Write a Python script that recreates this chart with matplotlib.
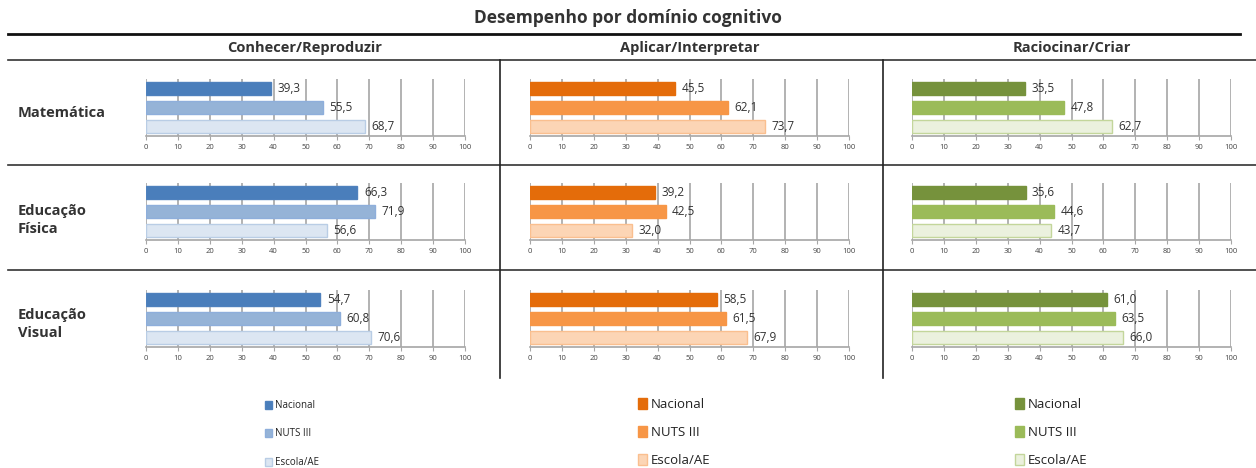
import matplotlib.pyplot as plt
from matplotlib.patches import Patch
from matplotlib.lines import Line2D

plt.rcParams['font.family'] = ['Open Sans', 'DejaVu Sans']

title = 'Desempenho por domínio cognitivo'
domains = ['Conhecer/Reproduzir', 'Aplicar/Interpretar', 'Raciocinar/Criar']
subjects = ['Matemática', 'Educação\nFísica', 'Educação\nVisual']
series = ['Nacional', 'NUTS III', 'Escola/AE']

# values per domain: one row per subject, order Nacional, NUTS III, Escola/AE
conhecer = [[39.3, 55.5, 68.7], [66.3, 71.9, 56.6], [54.7, 60.8, 70.6]]
aplicar = [[45.5, 62.1, 73.7], [39.2, 42.5, 32.0], [58.5, 61.5, 67.9]]
raciocinar = [[35.5, 47.8, 62.7], [35.6, 44.6, 43.7], [61.0, 63.5, 66.0]]
values = [conhecer, aplicar, raciocinar]

fills = [['#4a7ebb', '#95b3d7', '#dce6f2'],
         ['#e46c0a', '#f79646', '#fcd5b5'],
         ['#76923c', '#9bbb59', '#ebf1de']]
edges = [['#4f81bd', '#8eaedb', '#b9cde5'],
         ['#e46c0a', '#f79646', '#fabf8f'],
         ['#76923c', '#9bbb59', '#c3d69b']]

W, H = 1256, 468
fig = plt.figure(figsize=(W / 100, H / 100), dpi=100)


def fx(px):
    return px / W


def fy(py):
    return 1 - py / H


# panel geometry in pixels
col_x0 = [146, 530, 912]
col_w = 319
row_top = [79, 183, 290]
row_h = 57

for c in range(3):
    for r in range(3):
        ax = fig.add_axes([fx(col_x0[c]), fy(row_top[r] + row_h), fx(col_w), row_h / H])
        vals = values[c][r]
        ax.barh(range(3), vals, height=0.68, color=fills[c], edgecolor=edges[c],
                linewidth=1, zorder=3)
        for i, v in enumerate(vals):
            ax.text(v + 2, i, f'{v:.1f}'.replace('.', ','), va='center', ha='left',
                    fontsize=8.5, color='#333333', zorder=4)
        ax.set_xlim(0, 100)
        ax.set_ylim(2.5, -0.5)
        ax.set_xticks(range(0, 101, 10))
        ax.set_yticks([])
        ax.grid(axis='x', color='#a6a6a6', linewidth=1.2, zorder=0)
        for s in ['top', 'right', 'left']:
            ax.spines[s].set_visible(False)
        ax.spines['bottom'].set_color('#a6a6a6')
        ax.spines['bottom'].set_linewidth(1.2)
        ax.tick_params(axis='x', direction='out', length=3, color='#a6a6a6',
                       labelsize=5.5, labelcolor='#444444', pad=3)
        ax.patch.set_alpha(0)

# title, headers and row labels
fig.text(0.5, fy(18), title, ha='center', va='center', fontsize=12.5,
         fontweight='bold', color='#333333')
header_x = [305, 690, 1072]
for c in range(3):
    fig.text(fx(header_x[c]), fy(48), domains[c], ha='center', va='center',
             fontsize=10.5, fontweight='bold', color='#333333')
row_label_y = [113, 220, 324]
for r in range(3):
    fig.text(fx(18), fy(row_label_y[r]), subjects[r], ha='left', va='center',
             fontsize=10.5, fontweight='bold', color='#333333', linespacing=1.45)

# table rules
fig.add_artist(Line2D([fx(8), fx(1240)], [fy(34), fy(34)], color='#111111', lw=2))
fig.add_artist(Line2D([fx(8), fx(1256)], [fy(60), fy(60)], color='#333333', lw=1.2))
for y in [165, 270]:
    fig.add_artist(Line2D([fx(8), fx(1256)], [fy(y), fy(y)], color='#333333', lw=1.2))
for x in [500, 883]:
    fig.add_artist(Line2D([fx(x), fx(x)], [fy(60), fy(378)], color='#222222', lw=1.2))

# legends, one per domain
legend_x = [265, 638, 1015]
legend_top = [400, 398, 398]
legend_fs = [7, 9.5, 9.5]
legend_gap = [1.8, 1.12, 1.12]
for c in range(3):
    handles = [Patch(facecolor=fills[c][i], edgecolor=edges[c][i], label=series[i])
               for i in range(3)]
    fig.legend(handles=handles, loc='upper left',
               bbox_to_anchor=(fx(legend_x[c]), fy(legend_top[c])), frameon=False,
               fontsize=legend_fs[c], handlelength=0.7, handleheight=0.9,
               handletextpad=0.3, labelspacing=legend_gap[c],
               borderpad=0, borderaxespad=0, labelcolor='#222222')

fig.savefig('out.png', dpi=100)
